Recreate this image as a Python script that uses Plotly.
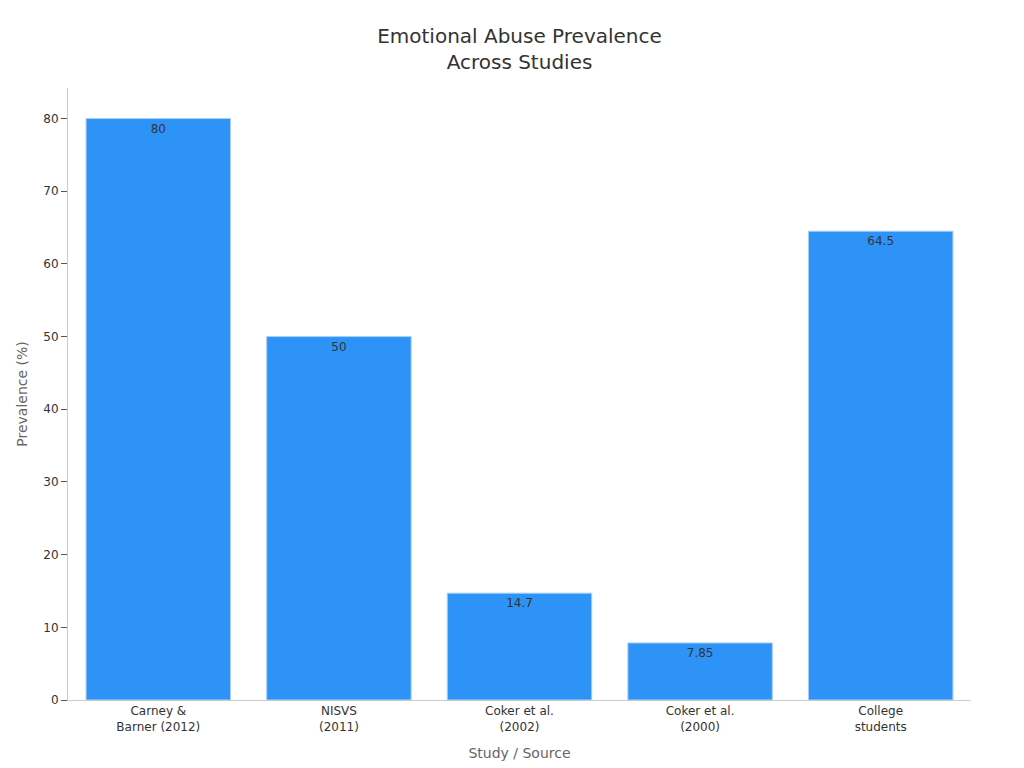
import plotly.graph_objects as go

studies = ["Carney &<br>Barner (2012)", "NISVS<br>(2011)", "Coker et al.<br>(2002)",
           "Coker et al.<br>(2000)", "College<br>students"]
prevalence = [80, 50, 14.7, 7.85, 64.5]

fig = go.Figure()
fig.add_trace(go.Bar(
    x=studies, y=prevalence,
    marker=dict(color="#2E93F7", line=dict(color="#a9d0f5", width=1)),
    text=[str(v) for v in prevalence], textposition="inside",
    insidetextanchor="end", textfont=dict(color="#333333", size=12),
    width=0.8,
))

fig.update_layout(
    width=1024, height=768,
    paper_bgcolor="white", plot_bgcolor="white",
    font=dict(family="DejaVu Sans", color="#333333"),
    title=dict(text="Emotional Abuse Prevalence<br>Across Studies", x=0.5, xanchor="center",
               xref="paper", y=0.955, font=dict(size=20, color="#333333")),
    margin=dict(l=60, r=61, t=80, b=76),
    showlegend=False,
    xaxis=dict(title=dict(text="Study / Source", font=dict(size=14, color="#666666")),
               showline=True, linecolor="#cccccc", tickfont=dict(size=12), automargin=False),
    yaxis=dict(title=dict(text="Prevalence (%)", font=dict(size=14, color="#666666"), standoff=12),
               range=[0, 84.2], dtick=10, showgrid=False, showline=True, linecolor="#cccccc",
               ticks="outside", ticklen=6, tickcolor="#555555", tickfont=dict(size=12),
               zeroline=False, automargin=False),
)

fig.write_html("out.html")
